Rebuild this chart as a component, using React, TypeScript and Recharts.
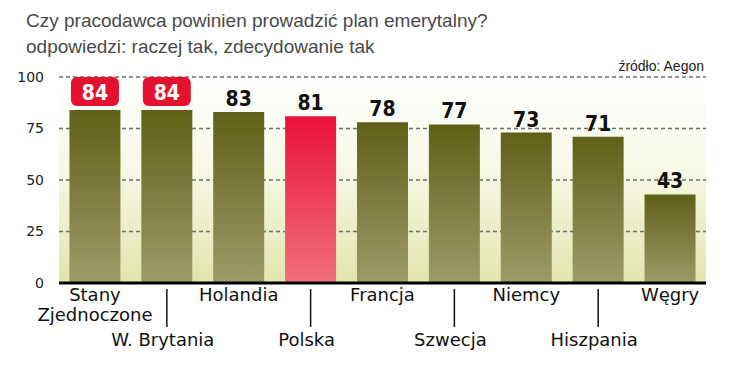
import React from 'react';
import { BarChart, Bar, XAxis, YAxis, CartesianGrid, Cell, LabelList } from 'recharts';

const countries = [
  'Stany Zjednoczone',
  'W. Brytania',
  'Holandia',
  'Polska',
  'Francja',
  'Szwecja',
  'Niemcy',
  'Hiszpania',
  'Węgry',
];
const values = [84, 84, 83, 81, 78, 77, 73, 71, 43];
const yTicks = [0, 25, 50, 75, 100];
const highlighted = ['Polska'];
const boxed = ['Stany Zjednoczone', 'W. Brytania'];

const data = countries.map((name, i) => ({ name, value: values[i] }));

const FONT = '"DejaVu Sans", sans-serif';
const TITLE_FONT = '"Liberation Sans", Arial, sans-serif';
const NUM_FONT = '"DejaVu Sans Condensed", "DejaVu Sans", sans-serif';

// etykiety osi X: co druga niżej, z kreską od osi
function CountryTick(props: any) {
  const { x, y, payload, index } = props;
  const name: string = payload.value;
  if (index % 2 === 0) {
    const lines = name === 'Stany Zjednoczone' ? ['Stany', 'Zjednoczone'] : [name];
    return (
      <g>
        {lines.map((l, i) => (
          <text
            key={l}
            x={x}
            y={y + 18 + i * 20}
            textAnchor="middle"
            fontFamily={FONT}
            fontSize={18}
            fill="#111"
          >
            {l}
          </text>
        ))}
      </g>
    );
  }
  return (
    <g>
      <line x1={x} x2={x} y1={y + 6} y2={y + 44} stroke="#111" strokeWidth={1.5} />
      <text x={x - 4} y={y + 63} textAnchor="middle" fontFamily={FONT} fontSize={18} fill="#111">
        {name}
      </text>
    </g>
  );
}

function ValueLabel(props: any) {
  const { x, y, width, value, index } = props;
  const cx = x + width / 2;
  if (boxed.includes(countries[index])) {
    return (
      <g>
        <rect x={cx - 24} y={y - 33} width={48} height={29} rx={6} fill="#e4112f" />
        <text
          x={cx}
          y={y - 10}
          textAnchor="middle"
          fontFamily={NUM_FONT}
          fontWeight="bold"
          fontSize={21}
          fill="#fff"
        >
          {value}
        </text>
      </g>
    );
  }
  return (
    <text
      x={cx}
      y={y - 6}
      textAnchor="middle"
      fontFamily={NUM_FONT}
      fontWeight="bold"
      fontSize={21}
      fill="#111"
    >
      {value}
    </text>
  );
}

export default function App() {
  return (
    <div style={{ position: 'absolute', left: 0, top: 0, width: 753, height: 376, background: '#fff' }}>
      <svg width={0} height={0} style={{ position: 'absolute' }}>
        <defs>
          <linearGradient id="bgGrad" x1="0" y1="0" x2="0" y2="1">
            <stop offset="0%" stopColor="#ffffff" />
            <stop offset="45%" stopColor="#f7f8e6" />
            <stop offset="100%" stopColor="#e2e5ad" />
          </linearGradient>
          <linearGradient id="oliveGrad" x1="0" y1="0" x2="0" y2="1">
            <stop offset="0%" stopColor="#5f6018" />
            <stop offset="100%" stopColor="#9c9c68" />
          </linearGradient>
          <linearGradient id="redGrad" x1="0" y1="0" x2="0" y2="1">
            <stop offset="0%" stopColor="#e9123a" />
            <stop offset="100%" stopColor="#f0707a" />
          </linearGradient>
        </defs>
      </svg>
      <svg width={753} height={80} style={{ position: 'absolute', left: 0, top: 0 }}>
        <text x={26} y={27} fontFamily={TITLE_FONT} fontSize={19} fill="#4a4a4a">
          Czy pracodawca powinien prowadzić plan emerytalny?
        </text>
        <text x={26} y={53} fontFamily={TITLE_FONT} fontSize={19} fill="#4a4a4a">
          odpowiedzi: raczej tak, zdecydowanie tak
        </text>
        <text x={704} y={71} textAnchor="end" fontFamily={TITLE_FONT} fontSize={14} fill="#222">
          źródło: Aegon
        </text>
      </svg>
      <div style={{ position: 'absolute', left: 0, top: 0 }}>
        <BarChart
          width={753}
          height={376}
          data={data}
          margin={{ top: 77, right: 47, bottom: 3, left: 19 }}
          barCategoryGap="14.5%"
        >
          <CartesianGrid
            vertical={false}
            fill="url(#bgGrad)"
            stroke="#6e6e6e"
            strokeDasharray="4 3"
            strokeWidth={1.3}
          />
          <YAxis
            domain={[0, 100]}
            ticks={yTicks}
            width={40}
            axisLine={false}
            tickLine={false}
            tickMargin={9}
            tick={{ fontFamily: FONT, fontSize: 14, fill: '#222' }}
          />
          <XAxis
            dataKey="name"
            height={90}
            interval={0}
            tickLine={false}
            tickSize={0}
            tickMargin={0}
            axisLine={{ stroke: '#000', strokeWidth: 3 }}
            tick={<CountryTick />}
          />
          <Bar dataKey="value" isAnimationActive={false}>
            {data.map((d) => (
              <Cell
                key={d.name}
                fill={highlighted.includes(d.name) ? 'url(#redGrad)' : 'url(#oliveGrad)'}
              />
            ))}
            <LabelList dataKey="value" content={<ValueLabel />} />
          </Bar>
        </BarChart>
      </div>
    </div>
  );
}
